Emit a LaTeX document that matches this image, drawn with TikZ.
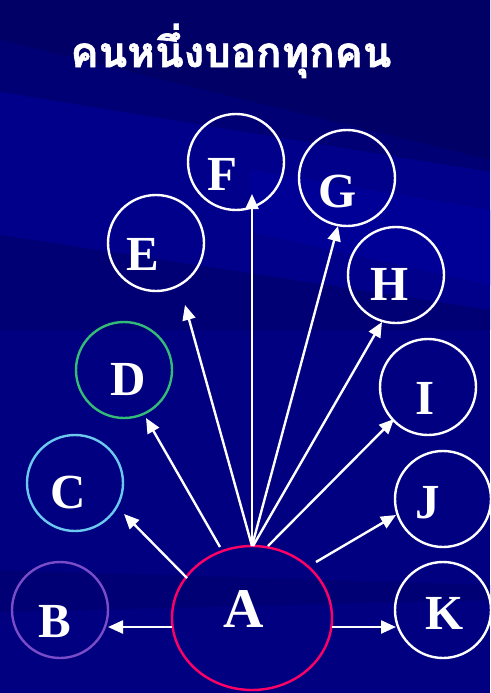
\documentclass[tikz,border=0pt]{standalone}
\usepackage{fontspec}
\setmainfont{Liberation Serif}
\newfontfamily\thaifont[Script=Thai,FakeBold=1.5]{Loma}
\usetikzlibrary{arrows.meta,shapes.geometric}
\definecolor{bgbase}{HTML}{000080}
\definecolor{bgdark}{HTML}{000066}
\definecolor{bgmid}{HTML}{000074}
\definecolor{bgbright}{HTML}{00008A}
\definecolor{bgbright2}{HTML}{000096}
\definecolor{colA}{HTML}{FF0066}
\definecolor{colB}{HTML}{7A4CC8}
\definecolor{colC}{HTML}{6CC8EE}
\definecolor{colD}{HTML}{33BB77}
\tikzset{
  person/.style={circle, draw=white, line width=2.4pt, minimum size=96pt, inner sep=0pt},
  letter/.style={text=white, font=\bfseries\fontsize{49}{49}\selectfont, anchor=base, inner sep=0pt},
  arr/.style={white, line width=2.4pt, -{Triangle[length=15pt,width=13pt]}},
}
\begin{document}
\begin{tikzpicture}[x=1pt,y=-1pt]
% background
\useasboundingbox (0,0) rectangle (490,693);
\fill[bgbase] (0,0) rectangle (490,693);
\fill[bgdark] (0,0) -- (490,0) -- (490,160) -- (0,40) -- cycle;
\fill[bgmid] (0,40) -- (490,160) -- (490,172) -- (0,92) -- cycle;
\fill[bgbright] (0,92) -- (490,172) -- (490,310) -- (0,235) -- cycle;
\fill[bgbright2] (250,170) -- (490,210) -- (490,285) -- (250,232) -- cycle;
\fill[bgmid] (0,235) -- (490,310) -- (490,330) -- (0,330) -- cycle;
\fill[bgmid] (0,570) -- (490,585) -- (490,600) -- (0,612) -- cycle;
% title
\node[text=white, anchor=base, inner sep=0pt, font=\thaifont\bfseries\fontsize{42}{42}\selectfont] (title) at (231,67) {คนหนึ่งบอกทุกคน};
% circles
\node[ellipse, draw=colA, line width=2.4pt, minimum width=160pt, minimum height=144pt, inner sep=0pt] (a) at (252,618) {};
\node[person, draw=colB] (b) at (60,610) {};
\node[person, draw=colC] (c) at (75,483) {};
\node[person, draw=colD] (d) at (124,370) {};
\node[person] (e) at (156,243) {};
\node[person] (f) at (236,162) {};
\node[person] (g) at (347,178) {};
\node[person] (h) at (396,275) {};
\node[person] (i) at (428,387) {};
\node[person] (j) at (443,499) {};
\node[person] (k) at (443,610) {};
% letters
\node[letter, font=\bfseries\fontsize{56}{56}\selectfont] (la) at (244,627) {A};
\node[letter] (lb) at (55,637) {B};
\node[letter] (lc) at (68,508) {C};
\node[letter] (ld) at (128,395) {D};
\node[letter] (le) at (143,270) {E};
\node[letter] (lf) at (222,190) {F};
\node[letter] (lg) at (338,207) {G};
\node[letter] (lh) at (390,300) {H};
\node[letter] (li) at (425,414) {I};
\node[letter] (lj) at (428,518) {J};
\node[letter] (lk) at (445,629) {K};
% arrow ends
\coordinate (sB) at (172,627);
\coordinate (tB) at (108,627);
\coordinate (sK) at (332,627);
\coordinate (tK) at (396,627);
\coordinate (sC) at (187,578);
\coordinate (tC) at (124,514);
\coordinate (sD) at (220,547);
\coordinate (tD) at (146,418);
\coordinate (sTop) at (252,546);
\coordinate (tE) at (185,305);
\coordinate (tF) at (252,194);
\coordinate (tG) at (338,226);
\coordinate (sH) at (253,546);
\coordinate (tH) at (382,322);
\coordinate (sI) at (268,546);
\coordinate (tI) at (394,419);
\coordinate (sJ) at (316,562);
\coordinate (tJ) at (396,515);
% arrows
\draw[arr] (sB) -- (tB);
\draw[arr] (sK) -- (tK);
\draw[arr] (sC) -- (tC);
\draw[arr] (sD) -- (tD);
\draw[arr] (sTop) -- (tE);
\draw[arr] (sTop) -- (tF);
\draw[arr] (sTop) -- (tG);
\draw[arr] (sH) -- (tH);
\draw[arr] (sI) -- (tI);
\draw[arr] (sJ) -- (tJ);
\end{tikzpicture}
\end{document}
